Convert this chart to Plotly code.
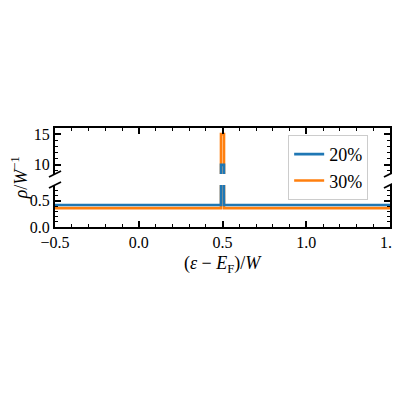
import plotly.graph_objects as go
from plotly.subplots import make_subplots

# spectral density data
x_vals = [-0.5, 0.491, 0.491, 0.509, 0.509, 1.5]
rho_20 = [0.42, 0.42, 10.0, 10.0, 0.42, 0.42]
rho_30 = [0.36, 0.36, 15.0, 15.0, 0.36, 0.36]
labels = ["20%", "30%"]
colors = ["#1f77b4", "#ff7f0e"]

font = "Liberation Serif"

fig = make_subplots(rows=2, cols=1, shared_xaxes=True, vertical_spacing=0.0)

# orange first so blue sits on top; legend order fixed with legendrank
for row in (1, 2):
    fig.add_trace(go.Scatter(x=x_vals, y=rho_30, mode="lines", name=labels[1],
                             line=dict(color=colors[1], width=2.6),
                             legendrank=2, showlegend=(row == 1)), row=row, col=1)
    fig.add_trace(go.Scatter(x=x_vals, y=rho_20, mode="lines", name=labels[0],
                             line=dict(color=colors[0], width=2.6),
                             legendrank=1, showlegend=(row == 1)), row=row, col=1)

ax_common = dict(showline=True, linecolor="black", linewidth=2,
                 ticks="inside", ticklen=6, tickwidth=1.5, tickcolor="black",
                 showgrid=False, zeroline=False, automargin=False,
                 ticklabeloverflow="allow",
                 tickfont=dict(family=font, size=16, color="black"))
minor = dict(ticks="inside", ticklen=3, tickwidth=1, tickcolor="black")

fig.update_xaxes(range=[-0.5, 1.5], dtick=0.5, tickformat=".1f",
                 minor=dict(dtick=0.1, **minor), **ax_common)
fig.update_xaxes(side="top", showticklabels=False, row=1, col=1)
fig.update_xaxes(side="bottom", row=2, col=1)

fig.update_yaxes(range=[8.5, 16], tickvals=[10, 15], mirror="ticks",
                 minor=dict(dtick=1, **minor), domain=[0.535, 1],
                 row=1, col=1, **ax_common)
fig.update_yaxes(range=[0, 0.8], tickvals=[0, 0.5], tickformat=".1f", mirror="ticks",
                 minor=dict(dtick=0.1, **minor), domain=[0, 0.424],
                 row=2, col=1, **ax_common)

# broken-axis marks
dx, dy = 0.018, 0.03
for xp in (0, 1):
    for yp in (0.535, 0.424):
        fig.add_shape(type="line", xref="paper", yref="paper",
                      x0=xp - dx, y0=yp - dy, x1=xp + dx, y1=yp + dy,
                      line=dict(color="black", width=1.8))

fig.add_annotation(text="<i>ρ</i>/<i>W</i><sup>−1</sup>", xref="paper", yref="paper",
                   x=-0.105, y=0.5, xanchor="center", yanchor="middle",
                   textangle=-90, showarrow=False,
                   font=dict(family=font, size=18, color="black"))
fig.add_annotation(text="(<i>ε</i> − <i>E</i><sub>F</sub>)/<i>W</i>", xref="paper", yref="paper",
                   x=0.5, y=-0.38, xanchor="center", yanchor="middle", showarrow=False,
                   font=dict(family=font, size=18, color="black"))

# page body adds an 8px offset; keep the figure small enough that nothing scrolls
fig.update_layout(
    width=392, height=360,
    margin=dict(l=46.5, r=10, t=120, b=141, autoexpand=False),
    paper_bgcolor="white", plot_bgcolor="white",
    showlegend=True,
    legend=dict(x=0.696, y=0.93, xanchor="left", yanchor="top",
                bgcolor="rgba(255,255,255,0.9)", bordercolor="#cccccc", borderwidth=1,
                font=dict(family=font, size=18, color="black")),
)

fig.write_html("out.html")
